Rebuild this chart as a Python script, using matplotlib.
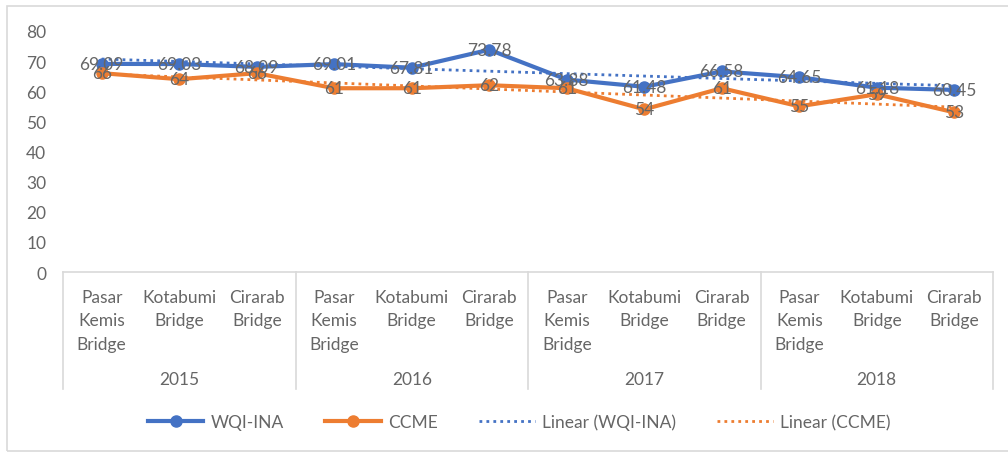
import numpy as np
import matplotlib as mpl
mpl.use('Agg')
import matplotlib.pyplot as plt
from matplotlib.patches import Rectangle
import matplotlib.transforms as mtrans

# data
years = ["2015", "2016", "2017", "2018"]
sites = ["Pasar\nKemis\nBridge", "Kotabumi\nBridge", "Cirarab\nBridge"]
wqi_ina = [69.09, 69.03, 68.09, 69.01, 67.81, 73.78, 63.88, 61.48, 66.58, 64.65, 61.18, 60.45]
ccme = [66, 64, 66, 61, 61, 62, 61, 54, 61, 55, 59, 53]
wqi_text = ["69.09", "69.03", "68.09", "69.01", "67.81", "73.78", "63.88", "61.48", "66.58", "64.65", "61.18", "60.45"]
ccme_text = [str(v) for v in ccme]

BLUE = "#4472C4"
ORANGE = "#ED7D31"
GRAY = "#666666"
LIGHT = "#D9D9D9"

plt.rcParams['font.family'] = ['Lato', 'DejaVu Sans']

fig = plt.figure(figsize=(10.08, 4.56), dpi=100)
ax = fig.add_axes([63 / 1008, 1 - 273 / 456, 930 / 1008, 241 / 456])

n = len(wqi_ina)
x = np.arange(n)

ax.plot(x, wqi_ina, color=BLUE, lw=3.0, marker='o', ms=8, label="WQI-INA", zorder=3)
ax.plot(x, ccme, color=ORANGE, lw=3.0, marker='o', ms=8, label="CCME", zorder=3)

# linear trend lines
for vals, col, lab in ((wqi_ina, BLUE, "Linear (WQI-INA)"), (ccme, ORANGE, "Linear (CCME)")):
    m, b = np.polyfit(x, vals, 1)
    ax.plot(x, m * x + b, color=col, lw=2.0, ls=(0, (1, 1.5)), label=lab, zorder=2)

# data labels centred on points (markers sit on top, as in the original)
for xi, v, t in zip(x, wqi_ina, wqi_text):
    ax.text(xi, v, t, ha='center', va='center', fontsize=12.5, color=GRAY, zorder=3.5)
for xi, v, t in zip(x, ccme, ccme_text):
    ax.text(xi, v, t, ha='center', va='center', fontsize=12.5, color=GRAY, zorder=3.5)

ax.set_ylim(0, 80)
ax.set_xlim(-0.5, n - 0.5)
ax.set_yticks(range(0, 81, 10))
ax.tick_params(axis='y', length=0, pad=12, labelsize=12.5, labelcolor=GRAY)

ax.set_xticks(x)
ax.set_xticklabels(sites * len(years), linespacing=1.6)
ax.tick_params(axis='x', length=0, pad=12, labelsize=12.5, labelcolor=GRAY)
for lbl in ax.get_xticklabels():
    lbl.set_verticalalignment('top')

for s in ("left", "right", "top"):
    ax.spines[s].set_visible(False)
ax.spines["bottom"].set_color(LIGHT)
ax.spines["bottom"].set_linewidth(1.2)

# multi-level category axis: separators and year labels
trans = mtrans.blended_transform_factory(ax.transData, ax.transAxes)
for k in range(len(years) + 1):
    xs = -0.5 + 3 * k
    ax.plot([xs, xs], [0, -0.485], transform=trans, color=LIGHT, lw=1.2, clip_on=False)
for k, yr in enumerate(years):
    ax.text(1 + 3 * k, -0.444, yr, transform=trans, ha='center', va='center',
            fontsize=12.5, color=GRAY)

leg = fig.legend(loc='center', bbox_to_anchor=(0.515, 1 - 423 / 456), ncol=4, frameon=False,
                 fontsize=12.5, handlelength=3.2, columnspacing=2.4, handletextpad=0.4)
for t in leg.get_texts():
    t.set_color(GRAY)

# chart border
fig.patches.append(Rectangle((7 / 1008, 4 / 456), 1.1, 445 / 456, transform=fig.transFigure,
                             fill=False, edgecolor=LIGHT, lw=1.2))

plt.savefig("out.png", dpi=100)
